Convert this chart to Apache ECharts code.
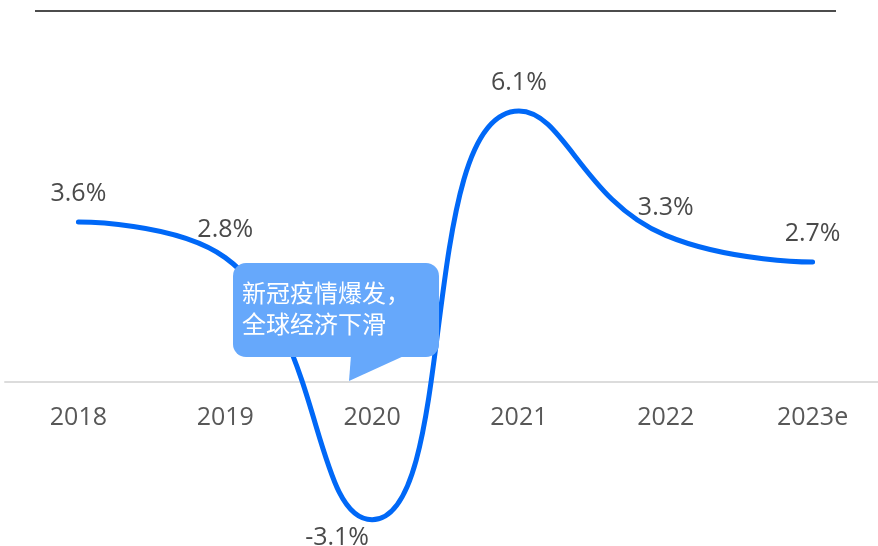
<!DOCTYPE html>
<html>
<head>
<meta charset="utf-8">
<title>GDP growth</title>
<script src="https://cdn.jsdelivr.net/npm/echarts@6.0.0/dist/echarts.min.js"></script>
<style>
  html, body { margin: 0; padding: 0; background: #ffffff; }
  #chart { width: 878px; height: 546px; }
</style>
</head>
<body>
<div id="chart"></div>
<script>
// Yearly growth rate, %
const years = ['2018', '2019', '2020', '2021', '2022', '2023e'];
const growth = [3.6, 2.8, -3.1, 6.1, 3.3, 2.7];
// Callout text for the 2020 dip
const noteLines = ['新冠疫情爆发，', '全球经济下滑'];

const LINE_BLUE = '#0068f7';
const NOTE_BLUE = '#66a8fb';
const TEXT_GREY = '#4a4a4a';
const FONT = '"Open Sans", Lato, sans-serif';

const chart = echarts.init(document.getElementById('chart'), null, { renderer: 'canvas' });

const seriesData = growth.map(function (v) {
  const item = { value: v };
  if (v < 0) {
    item.label = { position: 'bottom', distance: 5, offset: [-35, 0] };
  }
  return item;
});

chart.setOption({
  animation: false,
  backgroundColor: '#ffffff',
  // the plot area ends at the zero level; negative values are drawn below it
  grid: {
    left: 5, right: -8, top: 71, bottom: 164,
    containLabel: false,
    outerBoundsMode: 'none'
  },
  xAxis: {
    type: 'category',
    data: years,
    boundaryGap: true,
    axisLine: { show: true, onZero: false, lineStyle: { color: '#dcdcdc', width: 2 } },
    axisTick: { show: false },
    axisLabel: {
      color: '#585858',
      fontFamily: FONT,
      fontSize: 25,
      margin: 23
    },
    splitLine: { show: false }
  },
  yAxis: {
    type: 'value',
    min: 0,
    max: 7,
    axisLine: { show: false },
    axisTick: { show: false },
    axisLabel: { show: false },
    splitLine: { show: false }
  },
  series: [{
    type: 'line',
    data: seriesData,
    clip: false,
    smooth: 0.5,
    showSymbol: true,
    symbol: 'circle',
    symbolSize: 1,
    itemStyle: { color: 'rgba(0,0,0,0)' },
    lineStyle: { color: LINE_BLUE, width: 5, cap: 'round' },
    label: {
      show: true,
      position: 'top',
      distance: 15,
      color: TEXT_GREY,
      fontFamily: FONT,
      fontSize: 25,
      formatter: function (p) { return p.value + '%'; }
    },
    z: 2
  }],
  graphic: [
    // thin rule across the top
    {
      type: 'line',
      z: 10,
      shape: { x1: 35, y1: 11, x2: 836, y2: 11 },
      style: { stroke: '#111111', lineWidth: 1.5 }
    },
    // speech bubble for the 2020 note
    {
      type: 'rect',
      z: 100,
      shape: { x: 233, y: 263, width: 206, height: 94, r: 13 },
      style: { fill: NOTE_BLUE }
    },
    {
      type: 'polygon',
      z: 100,
      shape: { points: [[351, 355], [406, 355], [349, 381]] },
      style: { fill: NOTE_BLUE }
    },
    {
      type: 'text',
      z: 101,
      x: 242,
      y: 277,
      style: {
        text: noteLines.join('\n'),
        fill: '#ffffff',
        font: '24px "Noto Sans CJK SC", sans-serif',
        lineHeight: 31
      }
    }
  ]
});
</script>
</body>
</html>
